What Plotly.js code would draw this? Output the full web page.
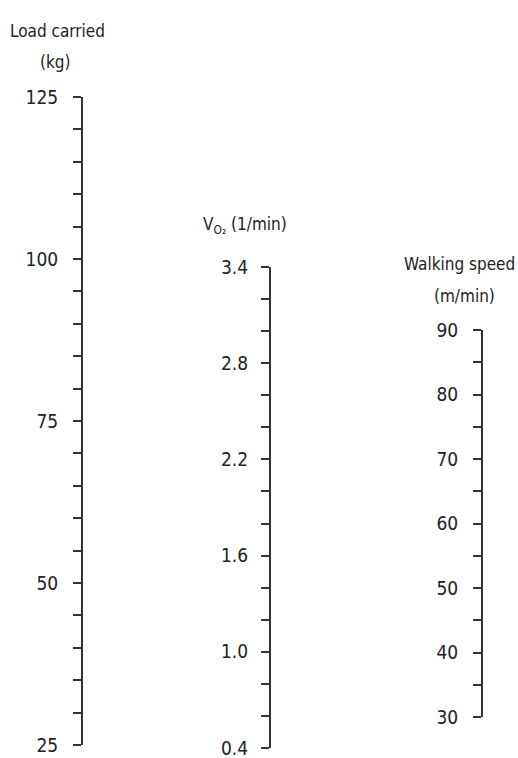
<!DOCTYPE html>
<html>
<head>
<meta charset="utf-8">
<script src="https://cdn.plot.ly/plotly-3.0.1.min.js"></script>
<style>html,body{margin:0;padding:0;background:#fff;}#chart{width:518px;height:758px;}</style>
</head>
<body>
<div id="chart"></div>
<script>
// Nomogram scales
const loadTicks = [25, 50, 75, 100, 125];        // kg
const vo2Ticks = [0.4, 1.0, 1.6, 2.2, 2.8, 3.4];  // l/min
const speedTicks = [30, 40, 50, 60, 70, 80, 90];  // m/min

const loadMinorStep = 5;
const vo2MinorStep = 0.2;
const speedMinorStep = 5;

const loadTitle = ["Load carried", "(kg)"];
const vo2Title = ["V<sub>O₂</sub> (1/min)"];
const speedTitle = ["Walking speed", "(m/min)"];

const FONT = "DejaVu Sans Condensed, Liberation Sans Narrow, sans-serif";
const INK = "#222222";

function scaleTrace(vals, xa, ya) {
  return {x: vals.map(() => 0), y: vals, xaxis: xa, yaxis: ya, type: "scatter", mode: "markers",
          marker: {opacity: 0}, hoverinfo: "skip", showlegend: false};
}

const data = [
  scaleTrace(loadTicks, "x", "y"),
  scaleTrace(vo2Ticks, "x2", "y2"),
  scaleTrace(speedTicks, "x3", "y3")
];

function yax(vals, minor, xa, dom, standoff, fmt) {
  return {
    domain: dom, anchor: xa, range: [vals[0], vals[vals.length - 1]],
    tickmode: "array", tickvals: vals, tickformat: fmt,
    showline: true, linecolor: "#333", linewidth: 2,
    ticks: "outside", ticklen: 8, tickwidth: 2, tickcolor: "#333",
    minor: {dtick: minor, tick0: vals[0], ticks: "outside", ticklen: 8, tickwidth: 2, tickcolor: "#333", showgrid: false},
    showgrid: false, zeroline: false, fixedrange: true,
    ticklabelstandoff: standoff, ticklabeloverflow: "allow",
    tickfont: {family: FONT, size: 19, color: INK}
  };
}
function xax(dom, ya) {
  return {domain: dom, anchor: ya, visible: false, range: [0, 1], fixedrange: true};
}

const H = 758, W = 518;
function ann(text, x, y) {
  return {text: text, x: x / W, y: 1 - y / H, xref: "paper", yref: "paper", xanchor: "center", yanchor: "middle",
          showarrow: false, font: {family: FONT, size: 17, color: INK}, align: "center"};
}
const layout = {
  width: W, height: H,
  margin: {l: 0, r: 0, t: 0, b: 0},
  paper_bgcolor: "#fff", plot_bgcolor: "rgba(0,0,0,0)",
  showlegend: false,
  xaxis: xax([83 / W, 90 / W], "y"),
  xaxis2: xax([271 / W, 278 / W], "y2"),
  xaxis3: xax([483 / W, 490 / W], "y3"),
  yaxis: yax(loadTicks, loadMinorStep, "x", [1 - 745 / H, 1 - 97 / H], 11, "d"),
  yaxis2: yax(vo2Ticks, vo2MinorStep, "x2", [1 - 748 / H, 1 - 267 / H], 9, ".1f"),
  yaxis3: yax(speedTicks, speedMinorStep, "x3", [1 - 717 / H, 1 - 330 / H], 11, "d"),
  annotations: [
    ann(loadTitle[0], 57, 31),
    ann(loadTitle[1], 55, 62),
    ann(vo2Title[0], 245, 225),
    ann(speedTitle[0], 459, 264),
    ann(speedTitle[1], 464, 296)
  ]
};

Plotly.newPlot("chart", data, layout, {staticPlot: true, displayModeBar: false});
</script>
</body>
</html>
